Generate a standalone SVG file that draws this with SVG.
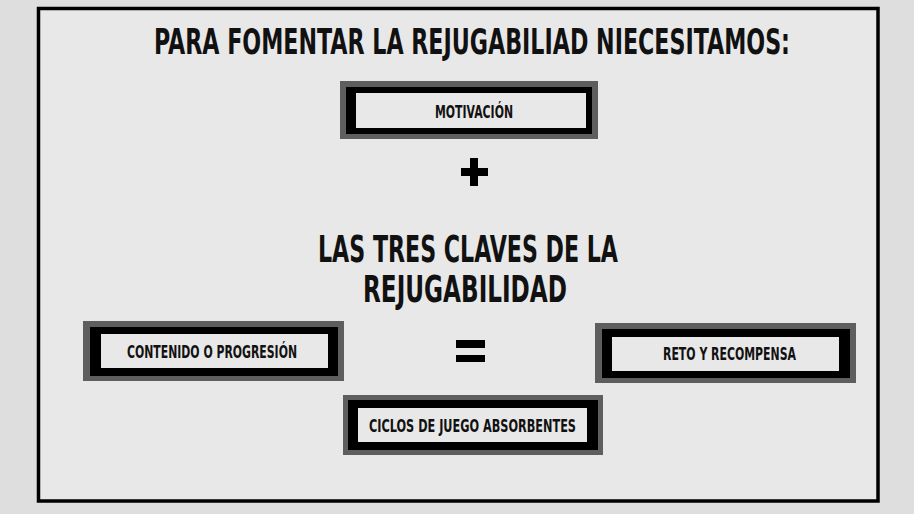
<svg xmlns="http://www.w3.org/2000/svg" width="914" height="514" viewBox="0 0 914 514">
<style>
.t{font-family:"DejaVu Sans Condensed","DejaVu Sans","Liberation Sans",sans-serif;font-weight:bold;fill:#111}
.g{fill:#5e5e5e}
.b{fill:#000}
.i{fill:#e8e8e8}
</style>
<rect x="0" y="0" width="914" height="514" fill="#dedede"/>
<rect x="38.5" y="8.5" width="839.5" height="492.5" fill="#e8e8e8" stroke="#000" stroke-width="3.5"/>
<g id="title">
<text class="t" transform="translate(0,54) scale(1,1.3)" x="154" y="0" font-size="27" textLength="636" lengthAdjust="spacingAndGlyphs">PARA FOMENTAR LA REJUGABILIAD NIECESITAMOS:</text>
</g>
<g id="motivacion">
<rect class="g" x="340" y="81" width="258" height="58"/>
<rect class="b" x="346" y="87" width="246" height="47"/>
<rect class="i" x="356" y="93" width="230" height="35"/>
<text class="t" x="435" y="118" font-size="18" textLength="78" lengthAdjust="spacingAndGlyphs">MOTIVACIÓN</text>
</g>
<g id="plus">
<rect class="b" x="470" y="158" width="8" height="28"/>
<rect class="b" x="461" y="168" width="27" height="8"/>
</g>
<g id="claves">
<text class="t" x="318" y="262" font-size="37" textLength="300" lengthAdjust="spacingAndGlyphs">LAS TRES CLAVES DE LA</text>
<text class="t" x="363" y="302" font-size="37" textLength="204" lengthAdjust="spacingAndGlyphs">REJUGABILIDAD</text>
</g>
<g id="equals">
<rect class="b" x="456" y="340" width="29" height="8"/>
<rect class="b" x="456" y="355" width="29" height="7"/>
</g>
<g id="contenido">
<rect class="g" x="83" y="321" width="261" height="60"/>
<rect class="b" x="90" y="327" width="248" height="49"/>
<rect class="i" x="101" y="334" width="227" height="34"/>
<text class="t" x="127" y="358" font-size="18" textLength="170" lengthAdjust="spacingAndGlyphs">CONTENIDO O PROGRESIÓN</text>
</g>
<g id="reto">
<rect class="g" x="595" y="323" width="261" height="60"/>
<rect class="b" x="602" y="329" width="248" height="49"/>
<rect class="i" x="612" y="337" width="227" height="34"/>
<text class="t" x="663" y="360" font-size="18" textLength="133" lengthAdjust="spacingAndGlyphs">RETO Y RECOMPENSA</text>
</g>
<g id="ciclos">
<rect class="g" x="343" y="395" width="260" height="60"/>
<rect class="b" x="348" y="400" width="250" height="50"/>
<rect class="i" x="358" y="408" width="229" height="34"/>
<text class="t" x="369" y="432" font-size="18" textLength="207" lengthAdjust="spacingAndGlyphs">CICLOS DE JUEGO ABSORBENTES</text>
</g>
<g id="connectors"/>
</svg>
